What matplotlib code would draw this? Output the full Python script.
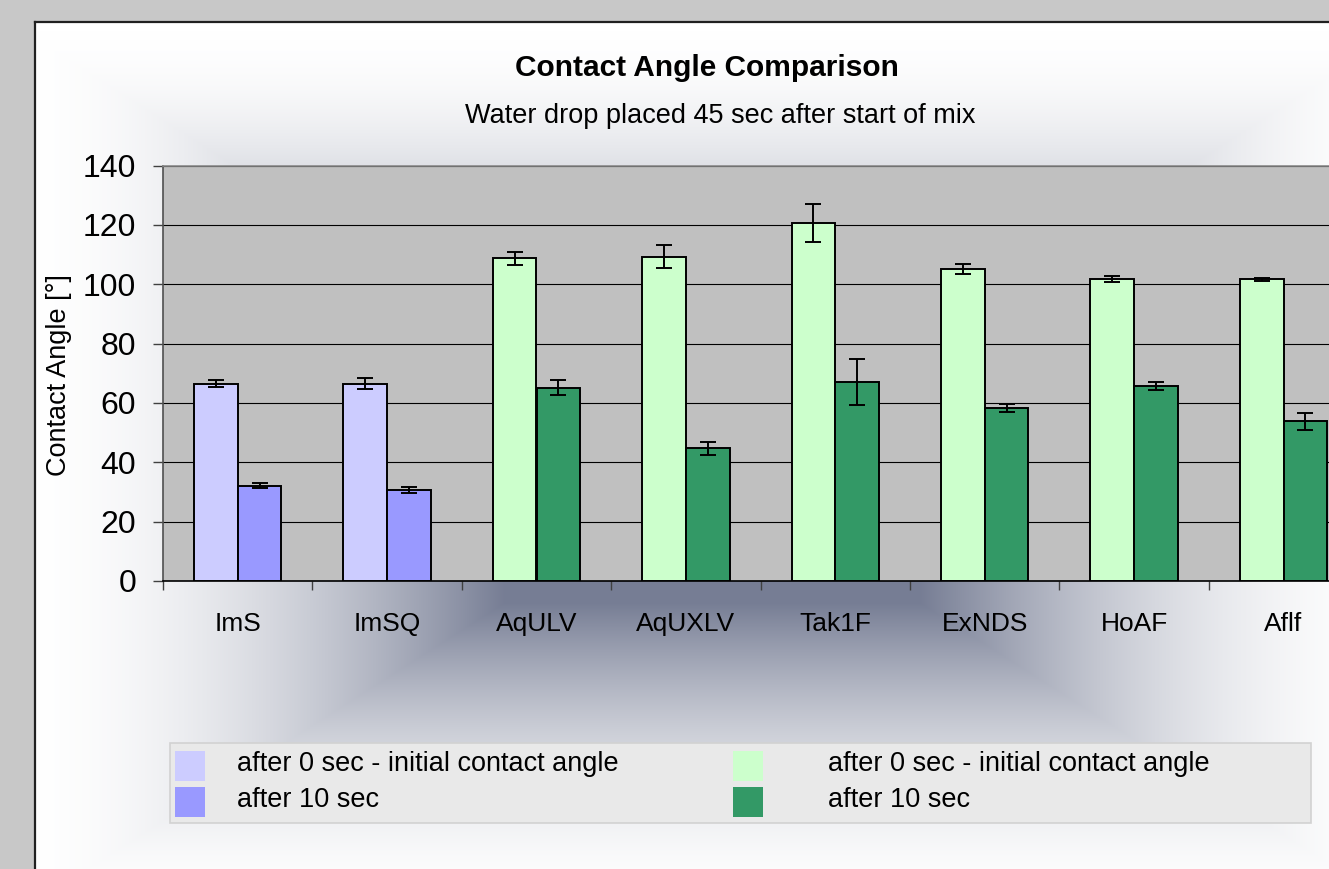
import numpy as np
import matplotlib
matplotlib.use("Agg")
import matplotlib.pyplot as plt
from matplotlib.patches import Rectangle
from matplotlib.lines import Line2D

plt.rcParams['font.family'] = ['Liberation Sans', 'DejaVu Sans']

# ---- data ----
categories = ['ImS', 'ImSQ', 'AqULV', 'AqUXLV', 'Tak1F', 'ExNDS', 'HoAF', 'Aflf']
initial = [66.5, 66.5, 108.7, 109.3, 120.6, 105.1, 101.6, 101.6]
initial_err = [1.1, 1.8, 2.2, 3.9, 6.3, 1.8, 1.0, 0.4]
after10 = [32.1, 30.7, 65.1, 44.7, 67.2, 58.2, 65.7, 53.8]
after10_err = [0.8, 1.0, 2.5, 2.1, 7.75, 1.3, 1.4, 2.8]
yticks = [0, 20, 40, 60, 80, 100, 120, 140]
legend_labels = ['after 0 sec - initial contact angle', 'after 10 sec']

light_cols = ['#CCCCFF', '#CCCCFF'] + ['#CCFFCC'] * 6
dark_cols = ['#9999FF', '#9999FF'] + ['#339966'] * 6

W, H = 1329, 869
fig = plt.figure(figsize=(W / 100, H / 100), dpi=100)

def fx(px):
    return px / W

def fy(py):
    return 1 - py / H

# ---- background (gray frame + rectangular center gradient) ----
yy, xx = np.mgrid[0:H, 0:W].astype(float)
cx, cy, hx, hy = 712.0, 470.0, 690.0, 440.0
t = 1 - np.maximum(np.abs(xx - cx) / hx, np.abs(yy - cy) / hy)
f = np.clip(t / 0.7, 0, 1) ** 1.8
slate = np.array([118, 125, 148]) / 255.0
img = (1 - f)[..., None] * np.ones(3) + f[..., None] * slate
frame = (xx < 34) | (yy < 21)
img[frame] = np.array([200, 200, 200]) / 255.0
bg = fig.add_axes([0, 0, 1, 1], zorder=-10)
bg.imshow(img, aspect='auto', extent=(0, 1, 0, 1), interpolation='bilinear')
bg.set_xlim(0, 1)
bg.set_ylim(0, 1)
bg.axis('off')
fig.add_artist(Line2D([fx(34.5), fx(34.5)], [fy(21.5), 0], color='#202020', lw=1.6, transform=fig.transFigure))
fig.add_artist(Line2D([fx(34.5), 1], [fy(21.5), fy(21.5)], color='#202020', lw=1.6, transform=fig.transFigure))

# ---- main axes ----
left_px, right_px, top_px, bot_px = 163, 163 + 8 * 149.4, 165.5, 581
ax = fig.add_axes([fx(left_px), fy(bot_px), (right_px - left_px) / W, (bot_px - top_px) / H])
ax.set_facecolor('#C0C0C0')

x = np.arange(len(categories))
bw = 0.293
ax.bar(x - bw / 2, initial, bw, color=light_cols, edgecolor='black', linewidth=1.4, zorder=3)
ax.bar(x + bw / 2, after10, bw, color=dark_cols, edgecolor='black', linewidth=1.4, zorder=3)
ax.errorbar(x - bw / 2, initial, yerr=initial_err, fmt='none', ecolor='black',
            elinewidth=1.4, capsize=5.5, capthick=1.4, zorder=4)
ax.errorbar(x + bw / 2, after10, yerr=after10_err, fmt='none', ecolor='black',
            elinewidth=1.4, capsize=5.5, capthick=1.4, zorder=4)

ax.set_xlim(-0.5, len(categories) - 0.5)
ax.set_ylim(0, 140)
ax.set_yticks(yticks)
ax.set_yticklabels([str(v) for v in yticks], fontsize=23)
ax.yaxis.grid(True, color='black', linewidth=0.8, zorder=1)
ax.set_axisbelow(True)
ax.tick_params(axis='y', length=7.2, width=1.0, color='#404040', pad=12)

ax.set_xticks(x)
ax.set_xticklabels(categories, fontsize=19)
ax.set_xticks(np.arange(len(categories) + 1) - 0.5, minor=True)
ax.tick_params(axis='x', which='major', length=0, pad=22)
ax.tick_params(axis='x', which='minor', length=6.5, width=1.0, color='#404040')

ax.spines['right'].set_visible(False)
ax.spines['top'].set_color('#8A8A8A')
ax.spines['top'].set_linewidth(1.2)
ax.spines['left'].set_color('#505050')
ax.spines['left'].set_linewidth(1.2)
ax.spines['bottom'].set_color('black')
ax.spines['bottom'].set_linewidth(1.2)

# ---- titles ----
fig.text(fx(707), fy(68), 'Contact Angle Comparison', ha='center', va='center',
         fontsize=21.5, fontweight='bold')
fig.text(fx(720), fy(116), 'Water drop placed 45 sec after start of mix', ha='center',
         va='center', fontsize=19.5)
fig.text(fx(59), fy(375), 'Contact Angle [°]', ha='center', va='center', rotation=90,
         fontsize=19.5)

# ---- legend ----
fig.add_artist(Rectangle((fx(170), fy(822.5)), fx(1311) - fx(170), fy(742.5) - fy(822.5),
                         transform=fig.transFigure, facecolor='#E9E9E9', edgecolor='#D2D2D2',
                         linewidth=1.2))
legend_cols = [(175, 237, [light_cols[0], dark_cols[0]]),
               (733, 828, [light_cols[2], dark_cols[2]])]
row_y = [(751, 781), (787, 817)]
for hx0, tx, cols in legend_cols:
    for (y0, y1), c, lab in zip(row_y, cols, legend_labels):
        fig.add_artist(Rectangle((fx(hx0), fy(y1)), fx(30), (y1 - y0) / H,
                                 transform=fig.transFigure, facecolor=c, edgecolor='none'))
        fig.text(fx(tx), fy((y0 + y1) / 2 - 2), lab, ha='left', va='center', fontsize=19.5)

fig.savefig('out.png', dpi=100)
